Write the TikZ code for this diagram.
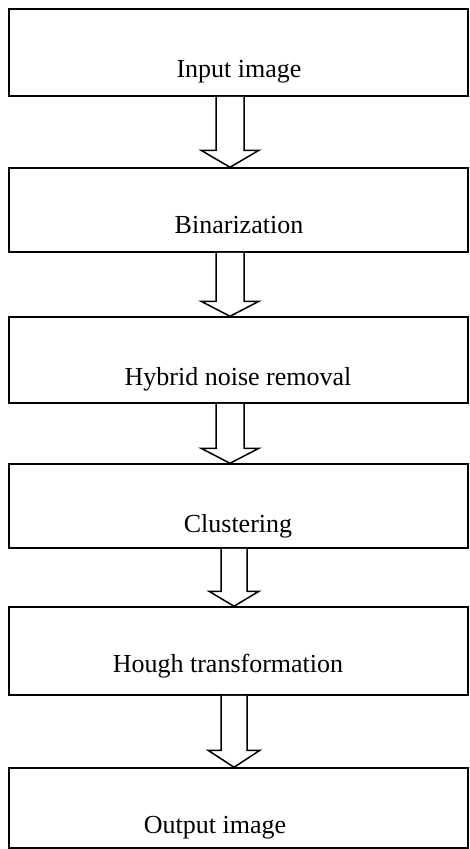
\documentclass[tikz,border=0pt]{standalone}
\usepackage{fontspec}
\setmainfont{Liberation Serif}
\usepackage{tikz}
\usetikzlibrary{calc}
% hollow block arrow: from, to, x centre, half shaft, half head, head length
\newcommand{\flowarrow}[6]{%
  \draw[arrowline] let \p1=(#1.south), \p2=(#2.north) in
    (#3pt-#4pt,\y1) -- (#3pt-#4pt,\y2+#6pt) -- (#3pt-#5pt,\y2+#6pt) -- (#3pt,\y2)
    -- (#3pt+#5pt,\y2+#6pt) -- (#3pt+#4pt,\y2+#6pt) -- (#3pt+#4pt,\y1);}

\begin{document}
\begin{tikzpicture}[x=1pt, y=1pt]
  \tikzset{stepbox/.style={draw, line width=1.5pt, minimum width=459pt, inner sep=0pt},
           steptext/.style={anchor=base, inner sep=0pt, font=\fontsize{26}{31}\selectfont},
           arrowline/.style={draw, line width=1.5pt, fill=white, line join=miter}}
  \useasboundingbox (0,0) rectangle (469,-849);
  \node[stepbox, minimum height=87pt] (b1) at (238.5,-52.5) {};
  \node[stepbox, minimum height=84pt] (b2) at (238.5,-210) {};
  \node[stepbox, minimum height=86pt] (b3) at (238.5,-360) {};
  \node[stepbox, minimum height=84pt] (b4) at (238.5,-506) {};
  \node[stepbox, minimum height=88pt] (b5) at (238.5,-651) {};
  \node[stepbox, minimum height=80pt] (b6) at (238.5,-808) {};
  \node[steptext] (t1) at (239,-77) {Input image};
  \node[steptext] (t2) at (239,-233) {Binarization};
  \node[steptext] (t3) at (238,-385) {Hybrid noise removal};
  \node[steptext] (t4) at (238,-532) {Clustering};
  \node[steptext] (t5) at (228,-672) {Hough transformation};
  \node[steptext] (t6) at (215,-833) {Output image};
  \flowarrow{b1}{b2}{230}{14}{29}{17}
  \flowarrow{b2}{b3}{230}{14}{29}{15}
  \flowarrow{b3}{b4}{230}{14}{29}{15}
  \flowarrow{b4}{b5}{234}{13}{25}{15}
  \flowarrow{b5}{b6}{234}{13}{26}{17}
\end{tikzpicture}
\end{document}
